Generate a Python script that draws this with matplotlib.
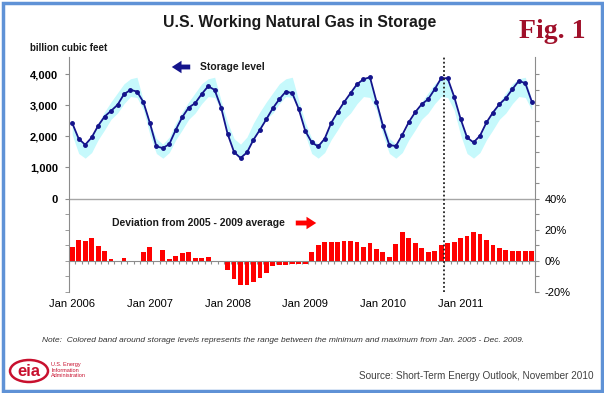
import numpy as np
import matplotlib.pyplot as plt
from matplotlib.patches import Rectangle, Ellipse

plt.rcParams['font.family'] = ['Liberation Sans', 'DejaVu Sans']

# monthly data Jan 2006 - Dec 2011
year_labels = ['Jan 2006', 'Jan 2007', 'Jan 2008', 'Jan 2009', 'Jan 2010', 'Jan 2011']

# working gas in storage, billion cubic feet (end of month)
storage = [
    2426, 1923, 1731, 1965, 2340, 2638, 2820, 3013, 3355, 3494, 3440, 3099,  # 2006
    2426, 1677, 1624, 1753, 2212, 2618, 2927, 3067, 3360, 3610, 3494, 2927,  # 2007
    2083, 1496, 1304, 1484, 1891, 2212, 2554, 2907, 3195, 3440, 3388, 2875,  # 2008
    2179, 1805, 1677, 1923, 2426, 2779, 3099, 3388, 3676, 3836, 3900, 3120,  # 2009
    2340, 1720, 1690, 2051, 2458, 2779, 3035, 3195, 3516, 3868, 3868, 3279,  # 2010
    2564, 1965, 1805, 2019, 2446, 2766, 3035, 3227, 3516, 3782, 3708, 3120,  # 2011
]

# min / max of Jan 2005 - Dec 2009 by calendar month
band_low = [2050, 1450, 1300, 1480, 1890, 2210, 2550, 2750, 3050, 3280, 3250, 2850]
band_high = [2450, 1930, 1750, 1980, 2430, 2790, 3110, 3400, 3690, 3850, 3900, 3150]

# deviation from 2005-2009 average, percent
deviation = [
    8.8, 13.1, 13.0, 14.6, 9.7, 6.5, 1.5, 0.0, 1.7, -0.4, -0.4, 5.6,           # 2006
    9.2, -0.5, 6.9, 1.3, 3.2, 4.9, 5.8, 1.9, 1.6, 2.8, -0.5, -1.0,             # 2007
    -5.8, -11.8, -15.5, -15.5, -13.3, -11.2, -8.0, -3.2, -2.8, -2.4, -2.2, -1.9,  # 2008
    -1.9, 5.6, 10.3, 12.0, 12.0, 12.0, 12.5, 12.9, 12.0, 9.2, 11.8, 7.7,       # 2009
    5.8, 2.2, 10.6, 18.5, 14.6, 11.4, 8.2, 6.0, 6.5, 9.9, 11.4, 12.0,          # 2010
    15.0, 16.3, 18.5, 17.4, 13.5, 10.3, 8.2, 6.9, 6.5, 6.5, 6.5, 6.5,          # 2011
]

forecast_start = 57.5  # between Oct and Nov 2010

n = len(storage)
x = np.arange(n)
n_years = n // 12

W, H = 604, 393
def fx(px):
    return px / W
def fy(py):
    return 1 - py / H

fig = plt.figure(figsize=(W / 100, H / 100), dpi=100)
rect = [fx(69), fy(292), fx(535) - fx(69), fy(57) - fy(292)]

ymin, ymax = -3000, 4550
ax = fig.add_axes(rect)
ax.set_xlim(-0.5, n - 0.5)
ax.set_ylim(ymin, ymax)

ax.fill_between(x, np.tile(band_low, n_years), np.tile(band_high, n_years),
                color='#c6f9fc', lw=0, zorder=1)
ax.plot(x, storage, color='#14148c', lw=1.3, marker='o', ms=2.5, zorder=3)
ax.axhline(0, color='#a6a6a6', lw=1, zorder=2)

for s in ['top', 'right', 'bottom']:
    ax.spines[s].set_visible(False)
ax.spines['left'].set_color('#8c8c8c')
ax.set_yticks(range(0, 4001, 1000))
ax.set_yticklabels([f'{v:,}' for v in range(0, 4001, 1000)], fontweight='bold')
ax.set_yticks(range(-3000, 0, 500), minor=True)
ax.tick_params(axis='y', which='both', length=3, color='#8c8c8c', labelsize=8, pad=5)
ax.set_xticks(range(0, n, 12))
ax.set_xticklabels(year_labels)
ax.tick_params(axis='x', length=0, labelsize=8, pad=5)

# percent axis on the right
ax2 = fig.add_axes(rect)
ax2.set_facecolor('none')
ax2.set_xlim(-0.5, n - 0.5)
ax2.set_ylim((ymin + 2000) / 50, (ymax + 2000) / 50)
ax2.bar(x, deviation, width=0.75, color='#ff0000', zorder=2)
ax2.axvline(forecast_start, color='#222222', lw=1.3, ls=(0, (1, 1.3)), zorder=4)

ax2.yaxis.tick_right()
for s in ['top', 'left']:
    ax2.spines[s].set_visible(False)
ax2.spines['right'].set_color('#8c8c8c')
ax2.spines['bottom'].set_position(('data', 0))
ax2.spines['bottom'].set_color('#8c8c8c')
ax2.spines['bottom'].set_zorder(3)
ax2.set_yticks(range(-20, 121, 10))
ax2.set_yticklabels([f'{v}%' if v in (-20, 0, 20, 40) else '' for v in range(-20, 121, 10)])
ax2.tick_params(axis='y', length=3, color='#8c8c8c', labelsize=8, pad=4)
ax2.set_xticks(np.arange(-0.5, n, 1))
ax2.tick_params(axis='x', length=2.5, color='#8c8c8c', labelbottom=False)

# texts
fig.text(fx(300), fy(22), 'U.S. Working Natural Gas in Storage', ha='center', va='center',
         fontsize=11.3, fontweight='bold', color='#1a1a1a')
fig.text(fx(552), fy(31), 'Fig. 1', ha='center', va='center', fontsize=20,
         fontweight='bold', color='#a0102a', family='Liberation Serif')
fig.text(fx(30), fy(48), 'billion cubic feet', ha='left', va='center', fontsize=7,
         fontweight='bold', color='#1a1a1a')

fig.text(fx(200), fy(67), 'Storage level', ha='left', va='center', fontsize=7.5,
         fontweight='bold', color='#1a1a1a')
ax.annotate('', xy=(fx(169), fy(67)), xytext=(fx(193), fy(67)), xycoords='figure fraction',
            arrowprops=dict(arrowstyle='simple,head_length=0.7,head_width=0.9,tail_width=0.35',
                            color='#14148c', lw=0))
fig.text(fx(112), fy(223), 'Deviation from 2005 - 2009 average', ha='left', va='center',
         fontsize=7.5, fontweight='bold', color='#1a1a1a')
ax.annotate('', xy=(fx(319), fy(223)), xytext=(fx(293), fy(223)), xycoords='figure fraction',
            arrowprops=dict(arrowstyle='simple,head_length=0.7,head_width=0.9,tail_width=0.35',
                            color='#ff0000', lw=0))

fig.text(fx(42), fy(340), 'Note:  Colored band around storage levels represents the range between '
         'the minimum and maximum from Jan. 2005 - Dec. 2009.', ha='left', va='center',
         fontsize=6, style='italic', color='#333333')
fig.text(fx(594), fy(376), 'Source: Short-Term Energy Outlook, November 2010', ha='right',
         va='center', fontsize=7.2, color='#404040')

# eia logo
fig.patches.append(Ellipse((fx(29), fy(371)), fx(38), 22 / H, transform=fig.transFigure,
                           fill=False, edgecolor='#c8102e', lw=1.8))
fig.text(fx(29), fy(372), 'eia', ha='center', va='center', fontsize=12, fontweight='bold',
         color='#c8102e')
fig.text(fx(51), fy(370), 'U.S. Energy\nInformation\nAdministration', ha='left', va='center',
         fontsize=4, color='#c8102e', linespacing=1.1)

# frame
fig.patches.append(Rectangle((fx(2.5), fy(390.5)), fx(599), 388 / H, transform=fig.transFigure,
                             fill=False, edgecolor='#5f92d6', lw=2.5))

fig.savefig('out.png', dpi=100)
